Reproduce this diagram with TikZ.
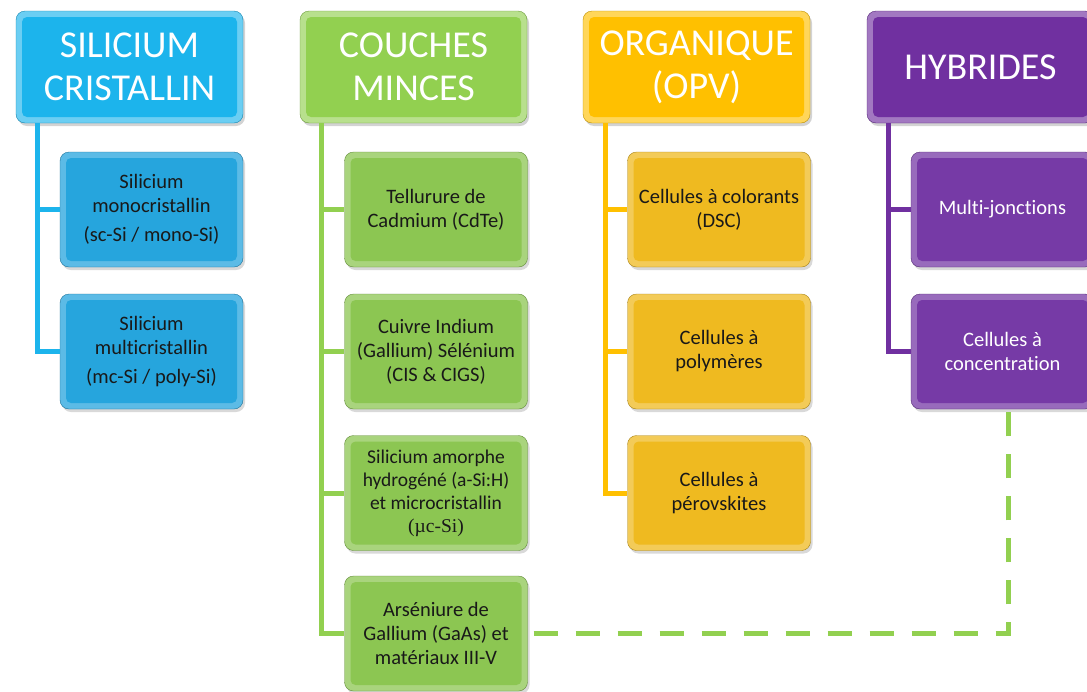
\documentclass[tikz,border=0pt]{standalone}
\usepackage{fontspec}
\setmainfont{Carlito}[Ligatures=NoCommon]
\newfontfamily\seriffont{Liberation Serif}
\usetikzlibrary{shadows}

\definecolor{siblue}{HTML}{1CB4EC}
\definecolor{siblueb}{HTML}{26A5DD}
\definecolor{cmgreen}{HTML}{92D050}
\definecolor{cmgreenb}{HTML}{8CC652}
\definecolor{opvyellow}{HTML}{FFC000}
\definecolor{opvyellowb}{HTML}{EFBA20}
\definecolor{hypurple}{HTML}{7030A0}
\definecolor{hypurpleb}{HTML}{763AA6}

\tikzset{
  bevel/.style={path picture={\fill[#1, rounded corners=5pt]
      ([shift={(6pt,-6pt)}]path picture bounding box.north west) rectangle
      ([shift={(-6pt,6pt)}]path picture bounding box.south east);}},
  famille/.style={draw=#1!75!black, fill=#1!65!white, bevel=#1, rounded corners=9pt,
      minimum width=227pt, minimum height=112pt, align=center,
      inner sep=0pt, text=white, font=\fontsize{38}{43}\selectfont,
      drop shadow={opacity=0.35, shadow xshift=2pt, shadow yshift=-3pt}},
  cellule/.style={draw=#1!70!black, fill=#1!75!white, bevel=#1, rounded corners=9pt,
      minimum width=183pt, minimum height=115pt, align=center,
      inner sep=0pt, text=black!90, font=\fontsize{20.5}{24}\selectfont,
      drop shadow={opacity=0.3, shadow xshift=2pt, shadow yshift=-3pt}},
  branche/.style={line width=5pt, #1},
  lien/.style={line width=5.5pt, cmgreen, dash pattern=on 24pt off 18pt, dash phase=36pt}
}

\begin{document}
\begin{tikzpicture}[x=1pt, y=-1pt]
    \useasboundingbox (0,0) rectangle (1087,691);
    % familles
    \node[famille=siblue] (h1) at (129.5,67) {SILICIUM\\CRISTALLIN};
    \node[famille=cmgreen] (h2) at (413.5,67) {COUCHES\\MINCES};
    \node[famille=opvyellow] (h3) at (696.5,67) {ORGANIQUE\\(OPV)};
    \node[famille=hypurple] (h4) at (980.5,67) {HYBRIDES};
    % silicium cristallin
    \node[cellule=siblueb] (c11) at (151.5,209.5) {Silicium\\monocristallin\\[5pt](sc-Si / mono-Si)};
    \node[cellule=siblueb] (c12) at (151.5,351.5) {Silicium\\multicristallin\\[5pt](mc-Si / poly-Si)};
    % couches minces
    \node[cellule=cmgreenb] (c21) at (436,209.5) {Tellurure de\\Cadmium (CdTe)};
    \node[cellule=cmgreenb] (c22) at (436,351.5) {Cuivre Indium\\(Gallium) Sélénium\\(CIS \& CIGS)};
    \node[cellule=cmgreenb, font=\fontsize{19.5}{23}\selectfont] (c23) at (436,493)
        {Silicium amorphe\\hydrogéné (a-Si:H)\\et microcristallin\\{\seriffont (µc-Si)}};
    \node[cellule=cmgreenb] (c24) at (436,633.5) {Arséniure de\\Gallium (GaAs) et\\matériaux III-V};
    % organique
    \node[cellule=opvyellowb] (c31) at (719,209.5) {Cellules à colorants\\(DSC)};
    \node[cellule=opvyellowb] (c32) at (719,351.5) {Cellules à\\polymères};
    \node[cellule=opvyellowb] (c33) at (719,493) {Cellules à\\pérovskites};
    % hybrides
    \node[cellule=hypurpleb, text=white] (c41) at (1002.5,209.5) {Multi-jonctions};
    \node[cellule=hypurpleb, text=white] (c42) at (1002.5,351.5) {Cellules à\\concentration};
    % branches
    \coordinate (t1) at ([xshift=22pt]h1.south west);
    \coordinate (t2) at ([xshift=22pt]h2.south west);
    \coordinate (t3) at ([xshift=23pt]h3.south west);
    \coordinate (t4) at ([xshift=22pt]h4.south west);
    \draw[branche=siblue] (t1) |- (c12.west);
    \draw[branche=siblue] (t1 |- c11.west) -- (c11.west);
    \draw[branche=cmgreen] (t2) |- (c24.west);
    \foreach \c in {c21,c22,c23}
        \draw[branche=cmgreen] (t2 |- \c.west) -- (\c.west);
    \draw[branche=opvyellow] (t3) |- (c33.west);
    \foreach \c in {c31,c32}
        \draw[branche=opvyellow] (t3 |- \c.west) -- (\c.west);
    \draw[branche=hypurple] (t4) |- (c42.west);
    \draw[branche=hypurple] (t4 |- c41.west) -- (c41.west);
    % lien GaAs -- concentration
    \coordinate (k42) at ([xshift=6pt]c42.south);
    \draw[lien] (c24.east) -| (k42);
\end{tikzpicture}
\end{document}
